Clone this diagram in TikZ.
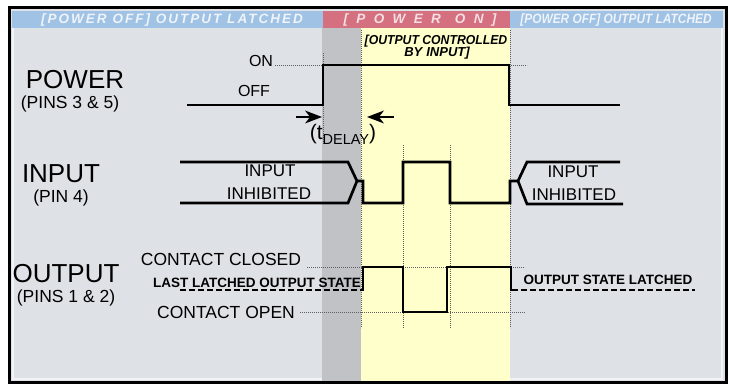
\documentclass[tikz,border=0pt]{standalone}
\usepackage{fontspec}
\setmainfont{Liberation Sans}
\usepackage{graphicx}
\usetikzlibrary{arrows.meta,calc}
\definecolor{bgray}{RGB}{222,225,229}
\definecolor{dband}{RGB}{192,194,198}
\definecolor{ylw}{RGB}{255,255,204}
\definecolor{hblue}{RGB}{160,194,228}
\definecolor{hred}{RGB}{213,112,128}
\definecolor{dotc}{RGB}{95,95,95}
\tikzset{
  wave/.style={line width=2.7pt, line join=miter, black},
  dashwave/.style={line width=2.2pt, black, dash pattern=on 6pt off 3pt},
  dline/.style={line width=0.8pt, dotc, dash pattern=on 0.8pt off 1.2pt},
  big/.style={font=\fontsize{26}{26}\selectfont, inner sep=0pt},
  sub/.style={font=\fontsize{17.5}{17.5}\selectfont, inner sep=0pt},
  lbl/.style={font=\fontsize{17}{17}\selectfont, inner sep=0pt},
  onoff/.style={font=\fontsize{16}{16}\selectfont, inner sep=0pt},
  bl/.style={font=\bfseries\fontsize{13.5}{13.5}\selectfont, inner sep=0pt},
  hdr/.style={font=\bfseries\itshape\fontsize{13.5}{13.5}\selectfont, inner sep=0pt},
  sml/.style={font=\bfseries\itshape\fontsize{13}{13}\selectfont, inner sep=0pt},
  darr/.style={line width=2.2pt},
  ahead/.style={fill=black},
}
\begin{document}
\begin{tikzpicture}[x=1pt,y=-1pt]
\useasboundingbox (0,0) rectangle (729,387);
\fill[white] (0,0) rectangle (729,387);
% backgrounds
\fill[bgray] (10,9) rectangle (725,382);
\draw[white!60!bgray, line width=1.2pt] (13,12) rectangle (722,379);
\fill[dband] (322,28) rectangle (361,381);
\fill[ylw] (361,28) rectangle (510,381);
\fill[hblue] (12,11) rectangle (323,28);
\fill[hred] (323,11) rectangle (510,28);
\fill[hblue] (510,11) rectangle (723,28);
\draw[black, line width=3pt] (9,8) rectangle (726,383);
% header texts
\node[hdr, text=white!82!hblue] (h1) at (172,20) {\addfontfeature{LetterSpace=15}[POWER OFF] OUTPUT LATCHED};
\node[hdr, text=white!78!hred] (h2) at (420,20) {\addfontfeature{LetterSpace=62}[POWER\hspace{14pt}ON]};
\node[hdr, text=white!82!hblue] (h3) at (616,20) {\scalebox{0.88}[1]{[POWER OFF] OUTPUT LATCHED}};
\node[sml, text=black] (oc1) at (436,41) {\scalebox{0.94}[1]{[OUTPUT CONTROLLED}};
\node[sml, text=black] (oc2) at (437,53) {BY\hspace{4pt}INPUT]};
% dotted guide lines
\draw[dline] (323,53) -- (323,145);
\draw[dline] (361,30) -- (361,328);
\draw[dline] (510,30) -- (510,328);
\draw[dline] (403,145) -- (403,328);
\draw[dline] (450,145) -- (450,328);
\draw[dline] (275,65) -- (323,65);
\draw[dline] (509,65) -- (527,65);
\draw[dline] (307,267) -- (525,267);
\draw[dline] (300,312) -- (525,312);
% labels
\node[big] (power) at (75,80) {POWER};
\node[sub] (pins35) at (70,104) {(PINS 3 \& 5)};
\node[big] (input) at (61,174) {INPUT};
\node[sub] (pin4) at (61,198) {(PIN 4)};
\node[big] (output) at (66,274) {OUTPUT};
\node[sub] (pins12) at (66,298) {(PINS 1 \& 2)};
\node[onoff] (on) at (261,61) {ON};
\node[onoff] (off) at (254,91) {OFF};
\node[lbl] (inl1) at (270,171) {INPUT};
\node[lbl] (inl2) at (269,194) {INHIBITED};
\node[lbl] (inr1) at (573,172) {INPUT};
\node[lbl] (inr2) at (574,195) {INHIBITED};
\node[sub] (cc) at (221,259) {CONTACT CLOSED};
\node[sub] (co) at (226,312) {CONTACT OPEN};
\node[bl] (lls) at (257,283) {LAST LATCHED OUTPUT STATE};
\node[bl] (osl) at (608,280) {OUTPUT STATE LATCHED};
\node[inner sep=0pt, font=\fontsize{21}{21}\selectfont] (td) at (343,134) {(t\raisebox{-5pt}{\fontsize{14.5}{14.5}\selectfont DELAY})};
% power waveform
\draw[wave] (187,105) -- (323,105) -- (323,65) -- (509,65) -- (509,105) -- (620,105);
% delay arrows
\coordinate (a1s) at (296,117);
\coordinate (a1e) at (322,117);
\coordinate (a2s) at (394,117);
\coordinate (a2e) at (367,117);
\draw[darr] (a1s) -- ($(a1e)+(-8,0)$);
\fill[ahead] (a1e) -- ++(-17,-6.5) -- ++(5,6.5) -- ++(-5,6.5) -- cycle;
\draw[darr] (a2s) -- ($(a2e)+(8,0)$);
\fill[ahead] (a2e) -- ++(17,-6.5) -- ++(-5,6.5) -- ++(5,6.5) -- cycle;
% input waveform
\draw[wave] (180,162) -- (348,162) -- (357,181);
\draw[wave] (180,203) -- (348,203) -- (357,181) -- (363,181) -- (363,203) -- (403,203) -- (403,162) -- (450,162) -- (450,203) -- (510,203) -- (510,181) -- (518,181) -- (527,162) -- (620,162);
\draw[wave] (518,181) -- (527,204) -- (623,204);
% output waveform
\draw[dashwave] (180,290) -- (362,290);
\draw[wave] (363,291) -- (363,267) -- (403,267) -- (403,312) -- (447,312) -- (447,267) -- (511,267) -- (511,291);
\draw[dashwave] (512,290) -- (695,290);
\end{tikzpicture}
\end{document}
